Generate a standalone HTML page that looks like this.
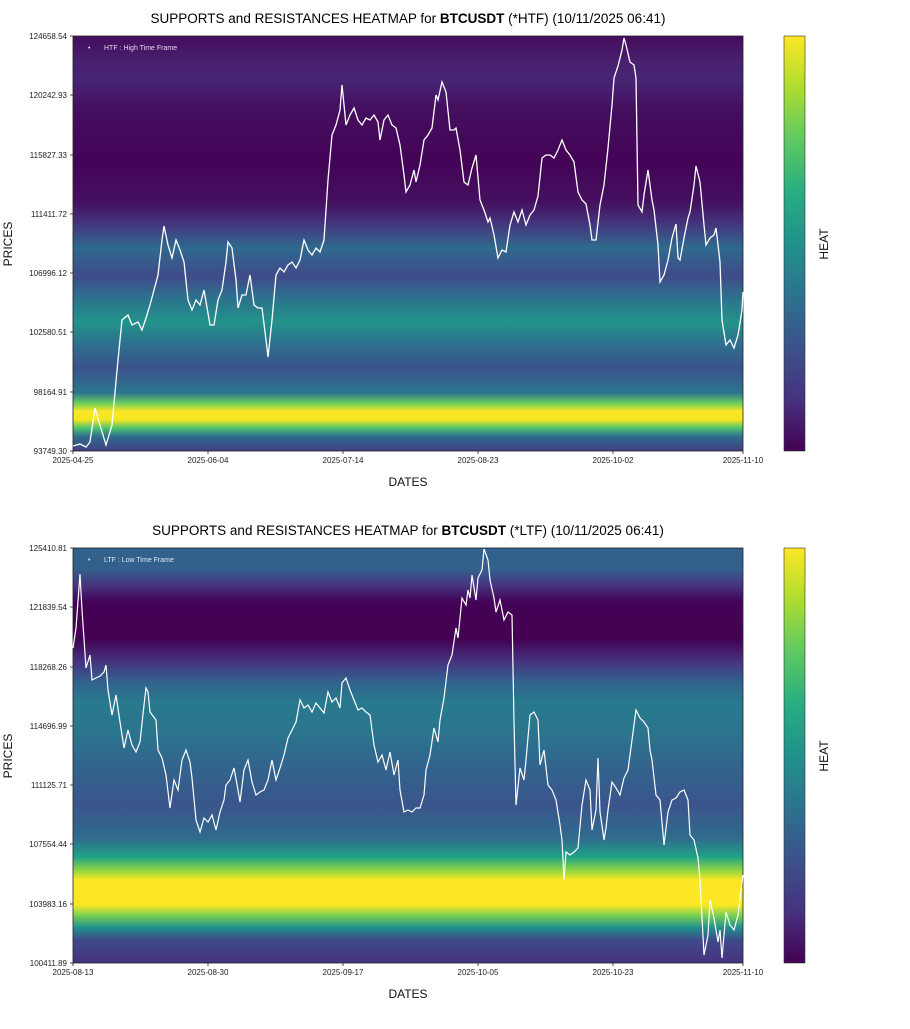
<!DOCTYPE html>
<html><head><meta charset="utf-8"><style>
html,body{margin:0;padding:0;background:#fff;}
svg text{font-family:"Liberation Sans","DejaVu Sans",sans-serif;}
</style></head><body>
<svg width="910" height="1024" viewBox="0 0 910 1024" xmlns="http://www.w3.org/2000/svg">
<defs>
<linearGradient id="h1" x1="0" y1="36" x2="0" y2="451" gradientUnits="userSpaceOnUse">
<stop offset="0" stop-color="#450c5c"/>
<stop offset="0.06" stop-color="#47206e"/>
<stop offset="0.11" stop-color="#472573"/>
<stop offset="0.17" stop-color="#450f60"/>
<stop offset="0.30" stop-color="#440356"/>
<stop offset="0.40" stop-color="#45105f"/>
<stop offset="0.46" stop-color="#433b80"/>
<stop offset="0.51" stop-color="#2f6a8d"/>
<stop offset="0.55" stop-color="#39578c"/>
<stop offset="0.58" stop-color="#3e4c89"/>
<stop offset="0.63" stop-color="#2d708e"/>
<stop offset="0.69" stop-color="#22938a"/>
<stop offset="0.74" stop-color="#2d718e"/>
<stop offset="0.80" stop-color="#3b538b"/>
<stop offset="0.86" stop-color="#2b768e"/>
<stop offset="0.885" stop-color="#6cce5a"/>
<stop offset="0.905" stop-color="#fde725"/>
<stop offset="0.925" stop-color="#f3e621"/>
<stop offset="0.945" stop-color="#4bc26c"/>
<stop offset="0.965" stop-color="#2f6d8e"/>
<stop offset="1" stop-color="#433e84"/>
</linearGradient>
<linearGradient id="h2" x1="0" y1="548" x2="0" y2="963" gradientUnits="userSpaceOnUse">
<stop offset="0" stop-color="#31618c"/>
<stop offset="0.05" stop-color="#33608d"/>
<stop offset="0.09" stop-color="#46347f"/>
<stop offset="0.13" stop-color="#440256"/>
<stop offset="0.22" stop-color="#440154"/>
<stop offset="0.27" stop-color="#46307d"/>
<stop offset="0.32" stop-color="#33608d"/>
<stop offset="0.37" stop-color="#28798e"/>
<stop offset="0.44" stop-color="#2a768e"/>
<stop offset="0.52" stop-color="#31658e"/>
<stop offset="0.62" stop-color="#3a558c"/>
<stop offset="0.70" stop-color="#2f6c8e"/>
<stop offset="0.745" stop-color="#20a386"/>
<stop offset="0.78" stop-color="#9dd93b"/>
<stop offset="0.80" stop-color="#fde725"/>
<stop offset="0.86" stop-color="#fde725"/>
<stop offset="0.885" stop-color="#7ad151"/>
<stop offset="0.915" stop-color="#21908d"/>
<stop offset="0.945" stop-color="#3e4a89"/>
<stop offset="1" stop-color="#46327e"/>
</linearGradient>
<linearGradient id="cb" x1="0" y1="1" x2="0" y2="0">
<stop offset="0" stop-color="#440154"/>
<stop offset="0.125" stop-color="#46327e"/>
<stop offset="0.25" stop-color="#3b528b"/>
<stop offset="0.375" stop-color="#2c728e"/>
<stop offset="0.5" stop-color="#21918c"/>
<stop offset="0.625" stop-color="#28ae80"/>
<stop offset="0.75" stop-color="#5ec962"/>
<stop offset="0.875" stop-color="#addc30"/>
<stop offset="1" stop-color="#fde725"/>
</linearGradient>
</defs>

<!-- TOP CHART -->
<text x="408" y="23" font-size="13.5" text-anchor="middle" fill="#000">SUPPORTS and RESISTANCES HEATMAP for <tspan font-weight="bold">BTCUSDT</tspan> (*HTF) (10/11/2025 06:41)</text>
<rect x="73" y="36" width="670" height="415" fill="url(#h1)"/>
<rect x="73" y="36" width="670" height="415" fill="none" stroke="#222" stroke-width="0.8"/>
<text x="88" y="50" font-size="7" fill="#e8d8f0">•</text>
<text x="104" y="50" font-size="7" fill="#e8d8f0">HTF : High Time Frame</text>
<polyline fill="none" stroke="#fff" stroke-width="1.3" points="73,446 80,444 86,447 90,442 95,408 100,425 106,445 112,425 118,360 122,320 128,315 132,325 138,322 142,330 146,318 150,305 154,290 158,275 162,240 164,226 168,245 172,258 176,240 180,250 184,262 188,300 192,310 196,300 200,305 204,290 210,325 214,325 218,300 222,290 226,262 228,242 232,248 236,280 238,308 242,295 246,295 250,275 254,305 258,308 262,308 266,340 268,357 272,320 276,275 280,268 284,272 288,265 292,262 296,268 300,260 304,240 308,250 312,255 316,248 320,252 324,240 328,180 332,135 336,125 340,110 342,85 346,125 350,115 354,108 358,120 362,125 366,118 370,120 374,115 378,122 380,140 384,120 388,115 392,125 396,128 400,145 404,175 406,192 410,185 414,170 416,182 420,165 424,140 428,135 432,128 436,95 438,100 442,82 446,92 450,130 454,130 456,128 460,150 464,182 468,185 472,168 476,155 480,200 484,210 488,222 490,218 494,235 498,258 502,250 506,252 510,225 514,212 518,222 522,210 526,225 530,215 534,210 538,196 542,158 546,155 550,155 554,158 558,150 562,140 566,150 570,155 574,162 578,192 582,200 586,204 590,225 592,240 596,240 600,205 604,185 608,148 612,105 614,78 618,66 622,50 624,38 626,45 630,62 634,65 636,78 638,205 642,212 644,195 648,170 652,200 654,210 658,245 660,282 664,275 668,260 672,238 676,224 678,258 680,260 684,238 688,218 690,212 694,185 696,166 700,182 704,225 706,245 710,238 714,235 716,228 720,262 722,320 726,345 730,340 734,348 738,335 742,310 743,292"/>
<g font-size="8" fill="#222" text-anchor="end">
<text x="67" y="39">124658.54</text>
<text x="67" y="98">120242.93</text>
<text x="67" y="158">115827.33</text>
<text x="67" y="217">111411.72</text>
<text x="67" y="276">106996.12</text>
<text x="67" y="335">102580.51</text>
<text x="67" y="395">98164.91</text>
<text x="67" y="454">93749.30</text>
</g>
<g stroke="#222" stroke-width="0.8">
<line x1="70" y1="36" x2="73" y2="36"/><line x1="70" y1="95" x2="73" y2="95"/><line x1="70" y1="155" x2="73" y2="155"/><line x1="70" y1="214" x2="73" y2="214"/><line x1="70" y1="273" x2="73" y2="273"/><line x1="70" y1="332" x2="73" y2="332"/><line x1="70" y1="392" x2="73" y2="392"/><line x1="70" y1="451" x2="73" y2="451"/>
<line x1="73" y1="451" x2="73" y2="454"/><line x1="208" y1="451" x2="208" y2="454"/><line x1="343" y1="451" x2="343" y2="454"/><line x1="478" y1="451" x2="478" y2="454"/><line x1="613" y1="451" x2="613" y2="454"/><line x1="743" y1="451" x2="743" y2="454"/>
</g>
<g font-size="8" fill="#222" text-anchor="middle">
<text x="73" y="463">2025-04-25</text><text x="208" y="463">2025-06-04</text><text x="343" y="463">2025-07-14</text><text x="478" y="463">2025-08-23</text><text x="613" y="463">2025-10-02</text><text x="743" y="463">2025-11-10</text>
</g>
<text x="408" y="486" font-size="12" text-anchor="middle" fill="#111">DATES</text>
<text transform="translate(12,244) rotate(-90)" font-size="12" text-anchor="middle" fill="#111">PRICES</text>
<rect x="784" y="36" width="21" height="415" fill="url(#cb)" stroke="#333" stroke-width="0.6"/>
<text transform="translate(828,244) rotate(-90)" font-size="12" text-anchor="middle" fill="#111">HEAT</text>

<!-- BOTTOM CHART -->
<text x="408" y="535" font-size="13.5" text-anchor="middle" fill="#000">SUPPORTS and RESISTANCES HEATMAP for <tspan font-weight="bold">BTCUSDT</tspan> (*LTF) (10/11/2025 06:41)</text>
<rect x="73" y="548" width="670" height="415" fill="url(#h2)"/>
<rect x="73" y="548" width="670" height="415" fill="none" stroke="#222" stroke-width="0.8"/>
<text x="88" y="562" font-size="7" fill="#e0e8f0">•</text>
<text x="104" y="562" font-size="7" fill="#e0e8f0">LTF : Low Time Frame</text>
<polyline fill="none" stroke="#fff" stroke-width="1.2" points="73,648 76,628 80,574 82,610 86,668 90,655 92,680 96,678 100,676 104,672 106,665 108,690 112,715 116,695 120,722 124,748 128,730 132,745 136,752 140,742 144,705 146,688 148,692 150,712 156,720 158,750 162,758 166,775 170,808 174,780 178,790 182,760 186,750 190,762 192,778 196,820 200,832 204,818 208,822 212,815 216,830 220,812 224,800 226,785 230,780 234,768 238,790 240,802 244,770 248,760 252,782 256,795 260,792 264,790 268,780 272,760 276,780 280,768 284,755 288,738 292,730 296,722 300,700 304,708 308,705 312,712 316,703 320,708 324,713 328,692 332,702 336,698 340,708 342,683 346,678 350,690 354,700 358,710 362,708 366,712 370,715 374,745 378,762 382,755 386,770 390,752 394,775 398,760 400,790 404,812 408,810 412,812 416,808 420,808 424,795 426,770 430,755 434,728 438,742 440,720 444,698 448,665 452,655 456,628 458,638 462,598 466,605 468,590 470,598 472,575 476,600 478,578 482,570 484,549 488,560 490,580 494,598 496,612 500,600 504,620 508,612 512,615 514,722 516,805 520,768 524,780 526,760 530,715 534,712 538,720 540,765 544,750 548,785 552,790 556,800 560,825 562,840 564,880 566,852 570,855 574,852 578,848 582,805 586,780 590,790 592,830 596,810 598,758 600,812 604,840 606,828 608,810 612,782 616,788 620,795 624,778 628,770 632,740 636,710 640,718 644,722 648,728 650,750 652,760 656,795 660,800 664,845 668,812 672,800 676,798 680,792 684,790 688,800 690,835 694,840 698,858 700,880 704,955 708,935 710,900 714,918 718,942 720,930 722,958 726,912 730,925 734,930 738,915 743,875"/>
<g font-size="8" fill="#222" text-anchor="end">
<text x="67" y="551">125410.81</text>
<text x="67" y="610">121839.54</text>
<text x="67" y="670">118268.26</text>
<text x="67" y="729">114696.99</text>
<text x="67" y="788">111125.71</text>
<text x="67" y="847">107554.44</text>
<text x="67" y="907">103983.16</text>
<text x="67" y="966">100411.89</text>
</g>
<g stroke="#222" stroke-width="0.8">
<line x1="70" y1="548" x2="73" y2="548"/><line x1="70" y1="607" x2="73" y2="607"/><line x1="70" y1="667" x2="73" y2="667"/><line x1="70" y1="726" x2="73" y2="726"/><line x1="70" y1="785" x2="73" y2="785"/><line x1="70" y1="844" x2="73" y2="844"/><line x1="70" y1="904" x2="73" y2="904"/><line x1="70" y1="963" x2="73" y2="963"/>
<line x1="73" y1="963" x2="73" y2="966"/><line x1="208" y1="963" x2="208" y2="966"/><line x1="343" y1="963" x2="343" y2="966"/><line x1="478" y1="963" x2="478" y2="966"/><line x1="613" y1="963" x2="613" y2="966"/><line x1="743" y1="963" x2="743" y2="966"/>
</g>
<g font-size="8" fill="#222" text-anchor="middle">
<text x="73" y="975">2025-08-13</text><text x="208" y="975">2025-08-30</text><text x="343" y="975">2025-09-17</text><text x="478" y="975">2025-10-05</text><text x="613" y="975">2025-10-23</text><text x="743" y="975">2025-11-10</text>
</g>
<text x="408" y="998" font-size="12" text-anchor="middle" fill="#111">DATES</text>
<text transform="translate(12,756) rotate(-90)" font-size="12" text-anchor="middle" fill="#111">PRICES</text>
<rect x="784" y="548" width="21" height="415" fill="url(#cb)" stroke="#333" stroke-width="0.6"/>
<text transform="translate(828,756) rotate(-90)" font-size="12" text-anchor="middle" fill="#111">HEAT</text>
</svg>
</body></html>
